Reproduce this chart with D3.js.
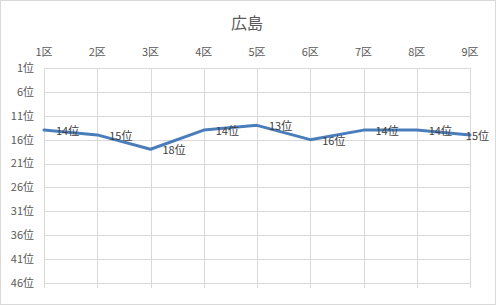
<!DOCTYPE html>
<html>
<head>
<meta charset="utf-8">
<script src="https://cdn.jsdelivr.net/npm/d3@7"></script>
<style>
  body { margin: 0; background: #fff; }
  svg { font-family: "Noto Sans CJK JP", "Noto Sans", sans-serif; }
</style>
</head>
<body>
<div id="chart"></div>
<script>
// data
const districts = ['1区', '2区', '3区', '4区', '5区', '6区', '7区', '8区', '9区'];
const ranks = [14, 15, 18, 14, 13, 16, 14, 14, 15];
const rankTicks = [1, 6, 11, 16, 21, 26, 31, 36, 41, 46];
const title = '広島';

const W = 496, H = 305;
const margin = { top: 68, right: 26, bottom: 22, left: 44 };
const width = W - margin.left - margin.right;
const height = H - margin.top - margin.bottom;

const svg = d3.select('#chart').append('svg')
    .attr('width', W)
    .attr('height', H);

// chart border
svg.append('rect')
    .attr('x', 0.5).attr('y', 0.5)
    .attr('width', W - 1).attr('height', H - 1)
    .attr('fill', '#fff')
    .attr('stroke', '#d9d9d9');

svg.append('text')
    .attr('x', 247)
    .attr('y', 29)
    .attr('text-anchor', 'middle')
    .style('font-size', '16px')
    .attr('fill', '#595959')
    .text(title);

const g = svg.append('g')
    .attr('transform', `translate(${margin.left},${margin.top})`);

const x = d3.scalePoint()
    .domain(districts)
    .range([0, width]);

const y = d3.scaleLinear()
    .domain([1, 46])
    .range([0, height]);

// horizontal grid
g.append('g')
    .selectAll('line')
    .data(rankTicks)
    .join('line')
    .attr('x1', 0).attr('x2', width)
    .attr('y1', d => Math.round(y(d)) + 0.5)
    .attr('y2', d => Math.round(y(d)) + 0.5)
    .attr('stroke', '#d9d9d9');

// vertical grid (extends a bit below plot)
g.append('g')
    .selectAll('line')
    .data(districts)
    .join('line')
    .attr('x1', d => Math.round(x(d)) + 0.5)
    .attr('x2', d => Math.round(x(d)) + 0.5)
    .attr('y1', 0).attr('y2', height + 5)
    .attr('stroke', '#d9d9d9');

// y labels
g.append('g')
    .selectAll('text')
    .data(rankTicks)
    .join('text')
    .attr('x', -10)
    .attr('y', d => y(d))
    .attr('dy', '0.35em')
    .attr('text-anchor', 'end')
    .style('font-size', '11px')
    .attr('fill', '#595959')
    .text(d => d + '位');

// x labels (top)
g.append('g')
    .selectAll('text')
    .data(districts)
    .join('text')
    .attr('x', d => x(d))
    .attr('y', -16)
    .attr('dy', '0.35em')
    .attr('text-anchor', 'middle')
    .style('font-size', '11px')
    .attr('fill', '#595959')
    .text(d => d);

const line = d3.line()
    .x((d, i) => x(districts[i]))
    .y(d => y(d));

g.append('path')
    .datum(ranks)
    .attr('d', line)
    .attr('fill', 'none')
    .attr('stroke', '#4a7ebb')
    .attr('stroke-width', 3)
    .attr('stroke-linejoin', 'round')
    .attr('stroke-linecap', 'round');

// data labels
const labels = g.append('g')
    .selectAll('text')
    .data(ranks)
    .join('text')
    .attr('y', d => y(d) + 1)
    .attr('dy', '0.35em')
    .style('font-size', '11px')
    .attr('fill', '#404040')
    .text(d => d + '位');

labels.attr('x', function(d, i) {
    const w = this.getComputedTextLength();
    return Math.min(x(districts[i]) + 12, W - margin.left - 7 - w);
});
</script>
</body>
</html>
